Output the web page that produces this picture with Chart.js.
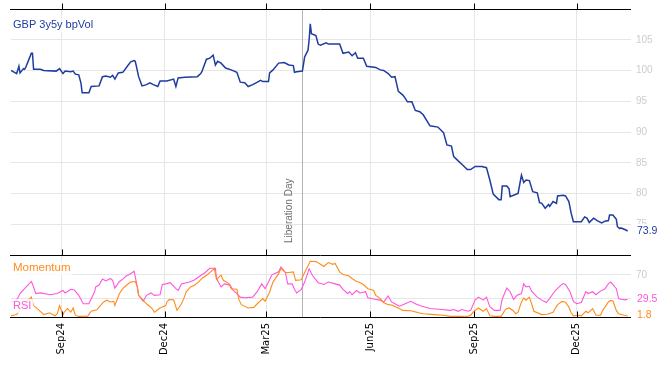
<!DOCTYPE html>
<html>
<head>
<meta charset="utf-8">
<script src="https://cdn.jsdelivr.net/npm/chart.js@4.4.1/dist/chart.umd.min.js"></script>
<style>
  html, body { margin: 0; padding: 0; background: #fff; }
  #wrap { position: relative; width: 668px; height: 366px; }
</style>
</head>
<body>
<div id="wrap"><canvas id="volChart" width="668" height="366"></canvas></div>
<script>
// GBP 3y5y bpVol
const volDates = [
  '2024-07-18','2024-07-23','2024-07-25','2024-07-26','2024-07-29','2024-07-30','2024-07-31',
  '2024-08-02','2024-08-05','2024-08-06','2024-08-07','2024-08-13','2024-08-16','2024-08-27','2024-08-30',
  '2024-09-02','2024-09-04','2024-09-09','2024-09-11','2024-09-13','2024-09-16','2024-09-18','2024-09-19','2024-09-25','2024-09-27',
  '2024-10-04','2024-10-07','2024-10-10','2024-10-14','2024-10-16','2024-10-18','2024-10-21','2024-10-25','2024-10-29',
  '2024-11-01','2024-11-04','2024-11-05','2024-11-06','2024-11-08','2024-11-11','2024-11-15','2024-11-18','2024-11-21','2024-11-25','2024-11-27',
  '2024-12-03','2024-12-09','2024-12-11','2024-12-13','2024-12-19','2024-12-30',
  '2025-01-02','2025-01-03','2025-01-07','2025-01-10','2025-01-13','2025-01-15','2025-01-17','2025-01-20','2025-01-24','2025-01-29',
  '2025-02-03','2025-02-04','2025-02-06','2025-02-10','2025-02-13','2025-02-17','2025-02-20','2025-02-24','2025-02-26',
  '2025-03-03','2025-03-04','2025-03-07','2025-03-12','2025-03-17','2025-03-21','2025-03-25','2025-03-26','2025-03-28',
  '2025-04-02','2025-04-03','2025-04-04','2025-04-07','2025-04-08','2025-04-09','2025-04-10','2025-04-14','2025-04-16','2025-04-18','2025-04-23','2025-04-25',
  '2025-05-05','2025-05-08','2025-05-13','2025-05-16','2025-05-19','2025-05-21','2025-05-26','2025-05-29',
  '2025-06-06','2025-06-10','2025-06-13','2025-06-17','2025-06-20','2025-06-23','2025-06-26','2025-06-30',
  '2025-07-02','2025-07-04','2025-07-08','2025-07-11','2025-07-15','2025-07-18','2025-07-24','2025-07-31',
  '2025-08-05','2025-08-08','2025-08-12','2025-08-14','2025-08-18','2025-08-21','2025-08-26','2025-08-29',
  '2025-09-02','2025-09-08','2025-09-12','2025-09-15','2025-09-18','2025-09-23','2025-09-25','2025-09-26','2025-09-30',
  '2025-10-02','2025-10-03','2025-10-07','2025-10-10','2025-10-13','2025-10-15','2025-10-17','2025-10-20','2025-10-23','2025-10-27','2025-10-29','2025-10-31',
  '2025-11-03','2025-11-06','2025-11-07','2025-11-10','2025-11-13','2025-11-14','2025-11-19','2025-11-21','2025-11-24','2025-11-26','2025-11-28',
  '2025-12-05','2025-12-08','2025-12-10','2025-12-12','2025-12-16','2025-12-19','2025-12-23','2025-12-26','2025-12-29','2025-12-30',
  '2026-01-02','2026-01-05','2026-01-06','2026-01-08','2026-01-09','2026-01-13','2026-01-15'
];
const volValues = [
  100.0, 99.5, 100.7, 99.6, 100.3, 100.2, 100.5,
  101.4, 102.8, 102.8, 100.2, 100.2, 100.0, 99.9, 100.3,
  99.5, 99.9, 99.8, 99.9, 99.4, 99.3, 97.9, 96.4, 96.4, 97.4,
  97.5, 99.0, 99.1, 98.9, 99.2, 98.6, 99.6, 99.7, 100.7,
  101.4, 101.6, 101.5, 100.7, 99.0, 97.5, 97.7, 98.0, 97.7, 97.4, 98.3,
  98.3, 98.6, 97.4, 98.8, 98.9, 99.0,
  99.5, 99.8, 101.8, 102.0, 102.5, 100.9, 101.5, 101.2, 100.4, 100.1,
  99.7, 99.2, 98.1, 98.0, 97.4, 97.7, 98.0, 98.4, 98.2,
  98.2, 99.6, 100.1, 101.2, 101.3, 100.9, 100.8, 99.7, 99.8,
  99.9, 101.0, 102.2, 103.3, 105.0, 107.6, 106.0, 105.7, 104.3, 104.1, 104.5, 104.3,
  104.3, 102.8, 103.0, 102.4, 102.9, 102.0, 102.0, 100.7,
  100.5, 100.1, 100.0, 99.5, 98.9, 99.0, 96.6, 96.0,
  95.5, 94.9, 94.9, 93.5, 93.3, 92.8, 91.0, 90.8,
  89.9, 87.9, 87.7, 86.0, 85.3, 84.8, 83.9, 83.9,
  84.4, 84.4, 84.2, 82.2, 79.9, 79.0, 79.0, 81.2, 81.2,
  80.8, 79.5, 79.8, 80.0, 83.0, 81.8, 82.2, 82.1, 80.3, 80.1, 78.5, 78.4,
  77.6, 78.2, 77.9, 78.7, 78.4, 79.6, 79.7, 79.6, 78.7, 76.8, 75.4,
  75.4, 76.2, 76.0, 75.3, 76.0, 75.6, 75.2, 75.5, 75.6, 76.5,
  76.5, 75.8, 74.6, 74.3, 74.4, 74.1, 73.9
];

// RSI (pink)
const rsiDates = [
  '2024-07-18','2024-07-22','2024-07-26','2024-07-30','2024-08-02','2024-08-05','2024-08-06','2024-08-09','2024-08-13','2024-08-22','2024-08-28',
  '2024-09-02','2024-09-04','2024-09-09','2024-09-12','2024-09-16','2024-09-20','2024-09-25','2024-09-30',
  '2024-10-01','2024-10-04','2024-10-07','2024-10-10','2024-10-14','2024-10-16','2024-10-18','2024-10-22','2024-10-25','2024-10-28',
  '2024-11-01','2024-11-04','2024-11-06','2024-11-08','2024-11-12','2024-11-15','2024-11-19','2024-11-22','2024-11-27','2024-11-29',
  '2024-12-02','2024-12-06','2024-12-11','2024-12-13','2024-12-16','2024-12-23','2024-12-27',
  '2025-01-02','2025-01-06','2025-01-10','2025-01-15','2025-01-16','2025-01-20','2025-01-23','2025-01-28','2025-01-30',
  '2025-02-03','2025-02-06','2025-02-10','2025-02-17','2025-02-21','2025-02-25','2025-02-28',
  '2025-03-03','2025-03-06','2025-03-12','2025-03-14','2025-03-18','2025-03-20','2025-03-24','2025-03-26','2025-03-28',
  '2025-04-01','2025-04-04','2025-04-08','2025-04-11','2025-04-16','2025-04-21','2025-04-25',
  '2025-05-01','2025-05-05','2025-05-08','2025-05-12','2025-05-14','2025-05-16','2025-05-20','2025-05-23','2025-05-28','2025-05-30',
  '2025-06-04','2025-06-10','2025-06-13','2025-06-17','2025-06-20','2025-06-23','2025-06-27',
  '2025-07-02','2025-07-07','2025-07-11','2025-07-17','2025-07-24',
  '2025-08-01','2025-08-11','2025-08-14','2025-08-18','2025-08-21','2025-08-27','2025-08-29',
  '2025-09-02','2025-09-05','2025-09-09','2025-09-12','2025-09-15','2025-09-19','2025-09-24','2025-09-26','2025-09-30',
  '2025-10-03','2025-10-06','2025-10-09','2025-10-13','2025-10-15','2025-10-17','2025-10-20','2025-10-22','2025-10-27','2025-10-31',
  '2025-11-04','2025-11-07','2025-11-12','2025-11-17','2025-11-19','2025-11-21','2025-11-25','2025-11-28',
  '2025-12-01','2025-12-05','2025-12-09','2025-12-11','2025-12-15','2025-12-18','2025-12-22','2025-12-26','2025-12-29','2025-12-31',
  '2026-01-05','2026-01-07','2026-01-09','2026-01-13','2026-01-15'
];
const rsiValues = [
  26, 25, 39, 47, 53, 59, 55, 39, 40, 37, 39,
  44, 40, 46, 45, 36, 22, 22, 42,
  50, 53, 63, 60, 64, 61, 48, 59, 63, 68,
  72, 76, 58, 36, 26, 36, 40, 36, 37, 54,
  55, 57, 47, 44, 55, 58, 61,
  69, 74, 81, 81, 64, 50, 55, 53, 46,
  39, 33, 32, 33, 42, 55, 47,
  58, 70, 75, 83, 74, 55, 55, 46, 40,
  46, 58, 80, 69, 57, 54, 58,
  55, 53, 46, 39, 42, 37, 44, 40, 42, 32,
  30, 28, 25, 35, 25, 22, 18,
  22, 26, 22, 18, 14,
  13, 11, 12.5, 9.5, 12.5, 9.5, 11,
  28.5, 33, 28, 33, 17, 11, 11, 30, 48,
  42, 29, 36, 39, 55, 50, 51, 43, 33, 28,
  24, 31, 44, 53, 55.5, 54, 42, 26,
  22, 24, 42, 39, 42, 37, 43, 47, 55.5, 58,
  47, 30.5, 29.5, 28.5, 29.5
];

// Momentum (orange)
const momDates = [
  '2024-07-18','2024-07-23','2024-07-26','2024-08-01','2024-08-05','2024-08-07','2024-08-12','2024-08-16','2024-08-21','2024-08-26','2024-08-28','2024-08-30',
  '2024-09-02','2024-09-03','2024-09-06','2024-09-09','2024-09-11','2024-09-13','2024-09-16','2024-09-24','2024-09-27',
  '2024-10-02','2024-10-04','2024-10-08','2024-10-11','2024-10-14','2024-10-17','2024-10-18','2024-10-22','2024-10-25','2024-10-29',
  '2024-11-01','2024-11-05','2024-11-07','2024-11-08','2024-11-12','2024-11-15','2024-11-20','2024-11-22','2024-11-27',
  '2024-12-02','2024-12-03','2024-12-05','2024-12-09','2024-12-12','2024-12-16','2024-12-18','2024-12-20','2024-12-24','2024-12-27','2024-12-31',
  '2025-01-03','2025-01-08','2025-01-14','2025-01-16','2025-01-20','2025-01-22','2025-01-27','2025-01-29',
  '2025-02-03','2025-02-04','2025-02-05','2025-02-07','2025-02-13','2025-02-18','2025-02-21','2025-02-26','2025-02-28',
  '2025-03-04','2025-03-07','2025-03-12','2025-03-14','2025-03-18','2025-03-21','2025-03-25','2025-03-27',
  '2025-04-01','2025-04-04','2025-04-09','2025-04-14','2025-04-17','2025-04-21','2025-04-25','2025-04-29',
  '2025-05-01','2025-05-05','2025-05-08','2025-05-13','2025-05-16','2025-05-20','2025-05-22','2025-05-26','2025-05-30',
  '2025-06-04','2025-06-06','2025-06-10','2025-06-13','2025-06-17','2025-06-20','2025-06-26','2025-06-30',
  '2025-07-07','2025-07-14','2025-07-18','2025-07-28',
  '2025-08-05','2025-08-11','2025-08-20','2025-08-27','2025-08-29',
  '2025-09-01','2025-09-05','2025-09-09','2025-09-12','2025-09-15','2025-09-19','2025-09-25','2025-09-29',
  '2025-10-02','2025-10-06','2025-10-08','2025-10-10','2025-10-13','2025-10-15','2025-10-17','2025-10-20','2025-10-22','2025-10-24','2025-10-31',
  '2025-11-05','2025-11-10','2025-11-14','2025-11-18','2025-11-21','2025-11-24','2025-11-26','2025-11-28',
  '2025-12-03','2025-12-05','2025-12-09','2025-12-11','2025-12-15','2025-12-18','2025-12-22','2025-12-24','2025-12-29','2025-12-31',
  '2026-01-02','2026-01-05','2026-01-07','2026-01-12','2026-01-15'
];
const momValues = [
  2, 4, 12, 26, 33, 19, 11, 4, 7, 2, 5.5, 19,
  3, 8, 14, 8, 15, 3, 1, 1.5, 9.5,
  12, 16.5, 25, 28, 25, 26, 19, 39, 47, 54,
  58, 59, 50, 36, 28, 22, 14, 8, 15,
  19, 25, 29, 28.5, 11, 22, 30.5, 41.5, 50, 52.5, 58,
  64, 70.5, 80.5, 62.5, 69.5, 61, 55.5, 47,
  46, 36, 28, 20.5, 15, 16, 22, 30.5, 26,
  41.5, 58, 72, 80.5, 74, 74, 75, 61,
  62, 74, 92.5, 92, 89, 84, 90.5, 87.5,
  89, 75, 70.5, 68.5, 64, 59, 58, 54, 47,
  44.5, 36, 30.5, 24, 20.5, 20, 15, 11,
  10.5, 7, 5.5, 4,
  3, 1, 1, 1.5, 3,
  9.5, 15, 9.5, 14, 2, 1, 1, 13,
  15, 10, 5.5, 8, 25, 31.5, 28, 33, 22, 9.5, 4,
  4.5, 8, 20.5, 26, 24.5, 16.5, 7, 2,
  3, 2, 9.5, 7, 14, 3, 3, 11, 25, 27.5,
  26.5, 11, 5.5, 3, 1.8
];

const tickDates = ['2024-09-01', '2024-12-01', '2025-03-01', '2025-06-01', '2025-09-01', '2025-12-01'];
const tickLabels = ['Sep24', 'Dec24', 'Mar25', 'Jun25', 'Sep25', 'Dec25'];
const volTicks = [75, 80, 85, 90, 95, 100, 105];
const indTicks = [30, 70];
const eventDate = '2025-04-02';
const eventLabel = 'Liberation Day';

const BLUE = '#1f3c9f';
const ORANGE = '#ff8c1a';
const PINK = '#ff55dd';
const GRID = '#e6e6e6';
const FONT = '"Liberation Sans", Arial, sans-serif';

function day(s) {
  const p = s.split('-');
  return Date.UTC(+p[0], +p[1] - 1, +p[2]) / 864e5;
}
function pts(dates, vals) {
  return dates.map((d, i) => ({ x: day(d), y: vals[i] }));
}

// boxed text label (white box under the text)
function tag(ctx, text, x, y, color, size, alpha) {
  ctx.font = size + 'px ' + FONT;
  const w = ctx.measureText(text).width;
  ctx.fillStyle = 'rgba(255,255,255,' + alpha + ')';
  ctx.fillRect(x - 2, y - 7, w + 4, 14);
  ctx.fillStyle = color;
  ctx.textAlign = 'left';
  ctx.textBaseline = 'middle';
  ctx.fillText(text, x, y);
}

// no extra padding from tick labels, the layout is fixed
function noPad(s) {
  s.paddingTop = 0;
  s.paddingBottom = 0;
  s.paddingLeft = 0;
  s.paddingRight = 0;
}

const decor = {
  id: 'decor',
  beforeDatasetsDraw(chart) {
    const { ctx, chartArea: a, scales: { x, y } } = chart;
    const px = Math.round(x.getPixelForValue(day(eventDate))) + 0.5;
    ctx.save();
    ctx.strokeStyle = '#b4b4b4';
    ctx.lineWidth = 1;
    ctx.beginPath();
    ctx.moveTo(px, a.top);
    ctx.lineTo(px, a.bottom);
    ctx.stroke();
    ctx.translate(px - 13, y.bottom - 12);
    ctx.rotate(-Math.PI / 2);
    ctx.fillStyle = '#6e6e6e';
    ctx.font = '10px ' + FONT;
    ctx.textAlign = 'left';
    ctx.textBaseline = 'middle';
    ctx.fillText(eventLabel, 0, 0);
    ctx.restore();
  },
  afterDraw(chart) {
    const { ctx, chartArea: a, scales: { x, y, y2 } } = chart;
    ctx.save();
    ctx.strokeStyle = '#000';
    ctx.lineWidth = 1;
    [y.top, y.bottom, y2.bottom].forEach(py => {
      const yy = Math.round(py) + 0.5;
      ctx.beginPath();
      ctx.moveTo(a.left - 1, yy);
      ctx.lineTo(a.right, yy);
      ctx.stroke();
      tickDates.forEach(d => {
        const xx = Math.round(x.getPixelForValue(day(d))) + 0.5;
        ctx.beginPath();
        ctx.moveTo(xx, yy);
        ctx.lineTo(xx, yy - 6);
        ctx.stroke();
      });
    });

    tag(ctx, 'GBP 3y5y bpVol', a.left + 2, y.top + 16, BLUE, 11, 0.8);
    tag(ctx, 'Momentum', a.left + 2, y2.top + 13, ORANGE, 11.5, 0.8);
    tag(ctx, 'RSI', a.left + 2, y2.top + 51, PINK, 11, 0.8);

    const lx = a.right + 6;
    tag(ctx, String(volValues[volValues.length - 1]), lx, y.getPixelForValue(volValues[volValues.length - 1]), BLUE, 10.5, 1);
    tag(ctx, String(rsiValues[rsiValues.length - 1]), lx, y2.getPixelForValue(rsiValues[rsiValues.length - 1]), PINK, 10.5, 1);
    tag(ctx, String(momValues[momValues.length - 1]), lx, y2.getPixelForValue(momValues[momValues.length - 1]) - 1, ORANGE, 10.5, 1);
    ctx.restore();
  }
};

new Chart(document.getElementById('volChart'), {
  type: 'line',
  data: {
    datasets: [
      {
        label: 'GBP 3y5y bpVol',
        data: pts(volDates, volValues),
        yAxisID: 'y',
        borderColor: BLUE,
        borderWidth: 1.5,
        pointRadius: 0,
        tension: 0
      },
      {
        label: 'Momentum',
        data: pts(momDates, momValues),
        yAxisID: 'y2',
        borderColor: ORANGE,
        borderWidth: 1.1,
        pointRadius: 0,
        tension: 0
      },
      {
        label: 'RSI',
        data: pts(rsiDates, rsiValues),
        yAxisID: 'y2',
        borderColor: PINK,
        borderWidth: 1.1,
        pointRadius: 0,
        tension: 0
      }
    ]
  },
  options: {
    responsive: false,
    animation: false,
    layout: { padding: { top: 9, left: 11, right: 0, bottom: 0 } },
    plugins: {
      legend: { display: false },
      tooltip: { enabled: false }
    },
    scales: {
      x: {
        type: 'linear',
        min: day('2024-07-18'),
        max: day('2026-01-18'),
        afterBuildTicks: s => { s.ticks = tickDates.map(d => ({ value: day(d) })); },
        afterFit: s => { s.height = 49; noPad(s); },
        ticks: {
          callback: (v, i) => tickLabels[i],
          autoSkip: false,
          minRotation: 90,
          maxRotation: 90,
          padding: 6,
          color: '#000',
          font: { family: 'DejaVu Sans', size: 10 }
        },
        grid: { color: GRID, drawTicks: false },
        border: { display: false }
      },
      y: {
        position: 'right',
        stack: 'panels',
        stackWeight: 246,
        min: 70,
        max: 110,
        afterBuildTicks: s => { s.ticks = volTicks.map(v => ({ value: v })); },
        afterFit: s => { s.width = 37; noPad(s); },
        ticks: { color: '#cccccc', padding: 5, font: { family: 'Liberation Sans', size: 10 } },
        grid: { color: GRID, drawTicks: false },
        border: { display: false }
      },
      y2: {
        position: 'right',
        stack: 'panels',
        stackWeight: 62,
        min: 0,
        max: 103,
        afterBuildTicks: s => { s.ticks = indTicks.map(v => ({ value: v })); },
        afterFit: s => { s.width = 37; noPad(s); },
        ticks: {
          callback: v => (v === 70 ? '70' : ''),
          color: '#cccccc',
          padding: 5,
          font: { family: 'Liberation Sans', size: 10 }
        },
        grid: { color: GRID, drawTicks: false },
        border: { display: false }
      }
    }
  },
  plugins: [decor]
});
</script>
</body>
</html>
